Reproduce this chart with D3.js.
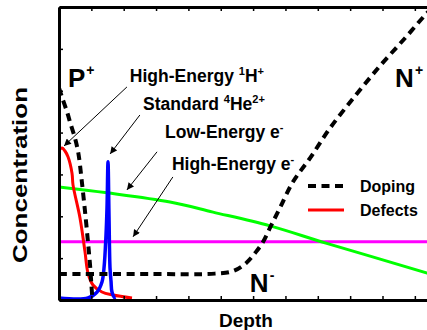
<!DOCTYPE html>
<html>
<head>
<meta charset="utf-8">
<script src="https://cdn.jsdelivr.net/npm/d3@7"></script>
<style>
  html, body { margin: 0; padding: 0; background: #fff; }
  svg { display: block; }
  text { font-family: "Liberation Sans", Arial, sans-serif; font-weight: bold; fill: #000; }
</style>
</head>
<body>
<svg id="chart" width="427" height="330"></svg>
<script>
// Depth profiles (arbitrary units: depth along x, concentration along y)
const dopingPx = [0, 0.1, 0.25, 0.35, 0.5, 0.6, 0.7, 0.8, 0.9, 0.96, 1.0, 1.03];
const dopingPy = [5.07, 4.83, 4.49, 4.23, 3.85, 3.5, 2.87, 2.15, 1.35, 0.83, 0.38, 0.05];

const dopingNx = [0, 2.81, 4.82, 5.38, 5.78, 6.09, 6.31, 6.55, 6.83, 7.23, 7.76, 8.38, 9.15, 9.92, 10.70, 11.38, 11.7];
const dopingNy = [0.62, 0.62, 0.63, 0.69, 0.88, 1.15, 1.39, 1.77, 2.20, 2.82, 3.39, 4.11, 4.87, 5.59, 6.26, 6.86, 7.1];

const defectsX = [0, 0.093, 0.185, 0.278, 0.402, 0.433, 0.649, 0.804, 0.896, 1.05, 1.329, 1.669, 2.257];
const defectsY = [3.58, 3.63, 3.56, 3.42, 3.03, 2.75, 1.96, 1.15, 0.645, 0.358, 0.191, 0.119, 0.048];

const heliumX = [0, 0.896, 1.175, 1.329, 1.391, 1.453, 1.484, 1.515, 1.546, 1.577, 1.608, 1.638, 1.731, 1.76];
const heliumY = [0.048, 0.048, 0.19, 0.43, 0.76, 1.55, 2.2, 3.3, 2.0, 0.76, 0.45, 0.19, 0.048, 0.048];

const lowEnergyElectronX = [0, 12];
const lowEnergyElectronY = [1.39, 1.39];

const highEnergyElectronX = [0, 1.484, 3.431, 4.76, 6.52, 8.25, 11.38, 12];
const highEnergyElectronY = [2.70, 2.56, 2.34, 2.10, 1.77, 1.36, 0.645, 0.50];

const xTicks = d3.range(0, 13);
const yTicks = d3.range(0, 8);

// Annotation texts with arrows: text anchor, arrow from -> to (data units)
const annotations = [
  { parts: [["High-Energy ", 0], ["1", 1], ["H", 0], ["+", 1]], at: [2.19, 5.21], from: [2.10, 5.09], to: [0.155, 3.68] },
  { parts: [["Standard ", 0], ["4", 1], ["He", 0], ["2+", 1]], at: [2.60, 4.54], from: [2.50, 4.42], to: [1.58, 3.49] },
  { parts: [["Low-Energy e", 0], ["-", 1]], at: [3.28, 3.87], from: [3.03, 3.54], to: [2.10, 2.63] },
  { parts: [["High-Energy e", 0], ["-", 1]], at: [3.49, 3.11], from: [3.52, 2.94], to: [2.29, 1.51] }
];

const regionLabels = [
  { base: "P", sup: "+", at: [0.278, 5.09] },
  { base: "N", sup: "+", at: [10.39, 5.09] },
  { base: "N", sup: "-", at: [5.90, 0.19] }
];

const legendItems = [
  { name: "Doping", color: "#000", dash: "8,5.5", width: 4 },
  { name: "Defects", color: "#ff0000", dash: null, width: 3 }
];

const svg = d3.select("#chart");
const plotLeft = 59, plotTop = 7, plotBottom = 300;
const unitX = 32.35;
const x = d3.scaleLinear().domain([0, 12]).range([plotLeft, plotLeft + 12 * unitX]);
const y = d3.scaleLinear().domain([0, 7]).range([plotBottom, plotTop]);

const defs = svg.append("defs");
defs.append("clipPath").attr("id", "plot")
  .append("rect").attr("x", plotLeft).attr("y", plotTop)
  .attr("width", 12 * unitX).attr("height", plotBottom - plotTop);

defs.append("marker")
  .attr("id", "arrow").attr("viewBox", "0 0 10 10").attr("refX", 10).attr("refY", 5)
  .attr("markerWidth", 9).attr("markerHeight", 7).attr("markerUnits", "userSpaceOnUse")
  .attr("orient", "auto")
  .append("path").attr("d", "M0,0 L10,5 L0,10 z").attr("fill", "#000");

const zip = (xs, ys) => xs.map((v, i) => [v, ys[i]]);
const lineStraight = d3.line().x(d => x(d[0])).y(d => y(d[1]));
const lineSmooth = d3.line().x(d => x(d[0])).y(d => y(d[1])).curve(d3.curveCatmullRom);

const plot = svg.append("g").attr("clip-path", "url(#plot)");

plot.append("path").datum(zip(lowEnergyElectronX, lowEnergyElectronY))
  .attr("d", lineStraight).attr("fill", "none").attr("stroke", "#ff00ff").attr("stroke-width", 3);
plot.append("path").datum(zip(highEnergyElectronX, highEnergyElectronY))
  .attr("d", lineSmooth).attr("fill", "none").attr("stroke", "#00ff00").attr("stroke-width", 3);
plot.append("path").datum(zip(defectsX, defectsY))
  .attr("d", lineSmooth).attr("fill", "none").attr("stroke", "#ff0000").attr("stroke-width", 3);
plot.append("path").datum(zip(heliumX, heliumY))
  .attr("d", lineSmooth).attr("fill", "none").attr("stroke", "#0000ff").attr("stroke-width", 3.5);
plot.append("path").datum(zip(dopingPx, dopingPy))
  .attr("d", lineSmooth).attr("fill", "none").attr("stroke", "#000").attr("stroke-width", 4)
  .attr("stroke-dasharray", "8,5.5");
plot.append("path").datum(zip(dopingNx, dopingNy))
  .attr("d", lineSmooth).attr("fill", "none").attr("stroke", "#000").attr("stroke-width", 4)
  .attr("stroke-dasharray", "8,5.5");

// Axes: ticks point inward, no tick labels
function styleAxis(g) {
  g.select(".domain").attr("stroke-width", 3).attr("stroke", "#000");
  g.selectAll(".tick line").attr("stroke-width", 1.5).attr("stroke", "#000");
}
svg.append("g").attr("transform", `translate(0,${plotBottom})`)
  .call(d3.axisBottom(x).tickValues(xTicks).tickSizeInner(-4).tickSizeOuter(0).tickFormat(""))
  .call(styleAxis);
svg.append("g").attr("transform", `translate(0,${plotTop})`)
  .call(d3.axisTop(x).tickValues(xTicks).tickSizeInner(-4).tickSizeOuter(0).tickFormat(""))
  .call(styleAxis);
svg.append("g").attr("transform", `translate(${plotLeft},0)`)
  .call(d3.axisLeft(y).tickValues(yTicks).tickSizeInner(-4).tickSizeOuter(0).tickFormat(""))
  .call(styleAxis);

// Axis titles
svg.append("text").attr("x", 246).attr("y", 327).attr("text-anchor", "middle")
  .attr("font-size", 19).text("Depth");
svg.append("text").attr("transform", "translate(27,175) rotate(-90)").attr("text-anchor", "middle")
  .attr("font-size", 20).attr("textLength", 176).attr("lengthAdjust", "spacingAndGlyphs")
  .text("Concentration");

// Region labels
regionLabels.forEach(r => {
  const t = svg.append("text").attr("x", x(r.at[0])).attr("y", y(r.at[1])).attr("font-size", 26);
  t.append("tspan").text(r.base);
  t.append("tspan").attr("font-size", 14).attr("dy", -12).attr("dx", 1).text(r.sup);
});

// Annotations
annotations.forEach(a => {
  svg.append("line")
    .attr("x1", x(a.from[0])).attr("y1", y(a.from[1]))
    .attr("x2", x(a.to[0])).attr("y2", y(a.to[1]))
    .attr("stroke", "#000").attr("stroke-width", 1).attr("marker-end", "url(#arrow)");
  const t = svg.append("text").attr("x", x(a.at[0])).attr("y", y(a.at[1])).attr("font-size", 17.5);
  let raised = false;
  a.parts.forEach(([s, sup]) => {
    const ts = t.append("tspan").text(s);
    if (sup && !raised) { ts.attr("dy", -7).attr("font-size", 11); raised = true; }
    else if (sup) { ts.attr("font-size", 11); }
    else if (raised) { ts.attr("dy", 7); raised = false; }
  });
});

// Legend
legendItems.forEach((d, i) => {
  const ly = 186 + i * 24;
  svg.append("line").attr("x1", 308).attr("x2", 344).attr("y1", ly).attr("y2", ly)
    .attr("stroke", d.color).attr("stroke-width", d.width)
    .attr("stroke-dasharray", d.dash);
  svg.append("text").attr("x", 360).attr("y", ly + 6).attr("font-size", 16).text(d.name);
});
</script>
</body>
</html>
